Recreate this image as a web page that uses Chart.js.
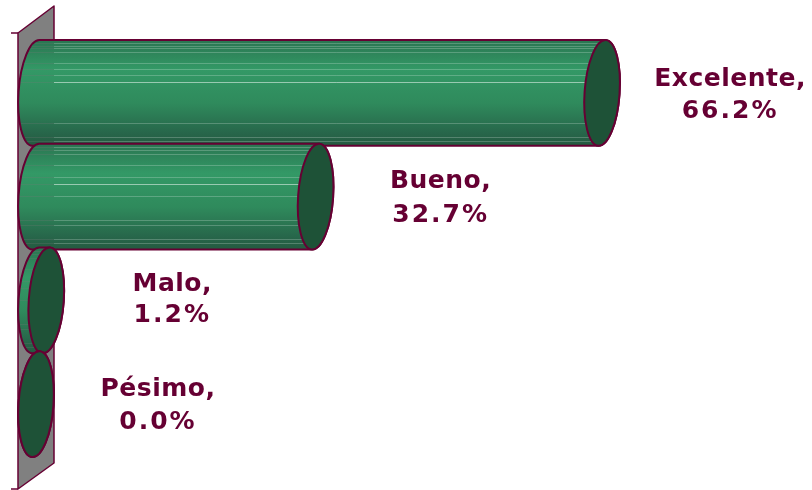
<!DOCTYPE html>
<html>
<head>
<meta charset="utf-8">
<style>
  html, body { margin: 0; padding: 0; background: #fff; }
  canvas { display: block; }
</style>
<script src="https://cdn.jsdelivr.net/npm/chart.js@4"></script>
</head>
<body>
<canvas id="qualityChart" width="812" height="490"></canvas>
<script>
const categories = ['Excelente', 'Bueno', 'Malo', 'Pésimo'];
const percentages = [66.2, 32.7, 1.2, 0.0];
const percentLabels = ['66.2%', '32.7%', '1.2%', '0.0%'];

const outline = '#660033';
const capColor = '#1e5237';
const wallColor = '#808080';
const tilt = 0.07;
const capRadius = 17.5;
// light streaks across each cylinder, as offset from its top edge
const streaks = [
    [3, 6, 8, 12, 23, 29, 35, 42, 83, 97, 101],
    [3, 6, 10, 21, 33, 40, 52, 76, 81, 95, 99],
    [3, 6, 10, 21, 33, 40, 52, 76, 81, 95, 99],
    []
];
const brightStreak = [42, 40, 40, 0];
// label nudges from the end of each bar
const labelDx = [128, 125, 126, 122];
const labelDy = [[-13, 19], [-15, 19], [-16, 15], [-15, 18]];

// Draws the grey back wall and a tilted cylinder for every bar
const cylinders = {
    id: 'cylinders',
    afterDatasetsDraw(chart) {
        const { ctx, scales } = chart;
        const x0 = scales.x.getPixelForValue(0);
        const wallL = x0 - 18, wallR = x0 + 18;

        ctx.save();
        ctx.lineWidth = 1.5;
        ctx.strokeStyle = outline;
        ctx.lineJoin = 'round';

        ctx.beginPath();
        ctx.moveTo(wallL, 33);
        ctx.lineTo(wallR, 6);
        ctx.lineTo(wallR, 463);
        ctx.lineTo(wallL, 489);
        ctx.closePath();
        ctx.fillStyle = wallColor;
        ctx.fill();
        ctx.stroke();

        ctx.beginPath();
        ctx.moveTo(wallL - 7, 33);
        ctx.lineTo(wallL, 33);
        ctx.moveTo(wallL - 7, 489);
        ctx.lineTo(wallL, 489);
        ctx.stroke();

        chart.getDatasetMeta(0).data.forEach((bar, i) => {
            const h = (bar.height / 2 + 1) / Math.cos(tilt);
            const top = bar.y - bar.height / 2 - 1;

            const body = new Path2D();
            body.ellipse(x0, bar.y, capRadius, h, tilt, -Math.PI / 2, Math.PI / 2, true);
            body.ellipse(bar.x, bar.y, capRadius, h, tilt, Math.PI / 2, -Math.PI / 2, true);
            body.closePath();

            const g = ctx.createLinearGradient(0, top, 0, top + bar.height + 2);
            g.addColorStop(0, '#2a7551');
            g.addColorStop(0.28, '#339966');
            g.addColorStop(0.6, '#2f8a5c');
            g.addColorStop(0.88, '#27664a');
            g.addColorStop(1, '#245a40');
            ctx.fillStyle = g;
            ctx.fill(body);

            ctx.save();
            ctx.clip(body);
            ctx.lineWidth = 1;
            streaks[i].forEach((s) => {
                const y = Math.round(top + s) + 0.5;
                ctx.strokeStyle = 'rgba(120,120,120,0.25)';
                ctx.beginPath();
                ctx.moveTo(wallL, y);
                ctx.lineTo(wallR, y);
                ctx.stroke();
                ctx.strokeStyle = s === brightStreak[i] ? 'rgba(255,255,255,0.5)' : 'rgba(255,255,255,0.22)';
                ctx.beginPath();
                ctx.moveTo(wallR, y);
                ctx.lineTo(bar.x + capRadius, y);
                ctx.stroke();
            });
            ctx.restore();
            ctx.lineWidth = 2;
            ctx.stroke(body);

            ctx.beginPath();
            ctx.ellipse(bar.x, bar.y, capRadius, h, tilt, 0, Math.PI * 2);
            ctx.fillStyle = capColor;
            ctx.fill();
            ctx.stroke();
        });
        ctx.restore();
    }
};

// Two line label to the right of every cylinder
const barLabels = {
    id: 'barLabels',
    afterDraw(chart) {
        const { ctx } = chart;
        ctx.save();
        ctx.fillStyle = outline;
        ctx.font = 'bold 25px "DejaVu Sans"';
        ctx.textAlign = 'center';
        ctx.textBaseline = 'middle';
        chart.getDatasetMeta(0).data.forEach((bar, i) => {
            const cx = bar.x + labelDx[i];
            ctx.letterSpacing = '0.5px';
            ctx.fillText(categories[i] + ',', cx, bar.y + labelDy[i][0]);
            ctx.letterSpacing = '2px';
            ctx.fillText(percentLabels[i], cx, bar.y + labelDy[i][1]);
        });
        ctx.restore();
    }
};

new Chart(document.getElementById('qualityChart').getContext('2d'), {
    type: 'bar',
    data: {
        labels: categories,
        datasets: [{
            data: percentages,
            backgroundColor: 'transparent',
            barPercentage: 1,
            categoryPercentage: 1
        }]
    },
    options: {
        indexAxis: 'y',
        responsive: false,
        animation: false,
        layout: { padding: { left: 36, right: 0, top: 41, bottom: 34 } },
        scales: {
            x: { display: false, min: 0, max: 90.75 },
            y: { display: false }
        },
        plugins: { legend: { display: false }, tooltip: { enabled: false } }
    },
    plugins: [cylinders, barLabels]
});
</script>
</body>
</html>
